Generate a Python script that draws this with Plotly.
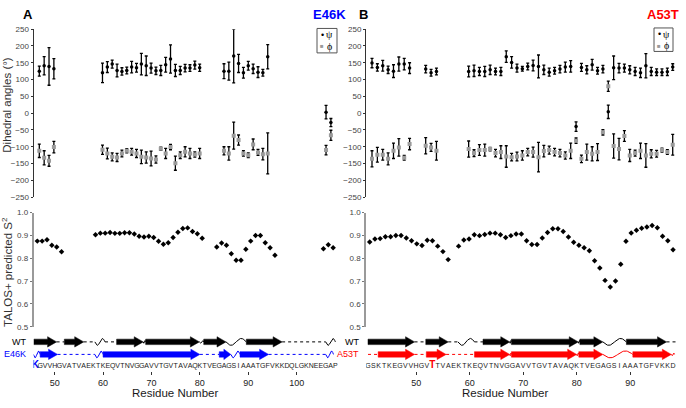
import numpy as np
import plotly.graph_objects as go

# ---------------- data ----------------
# Panel A : E46K
A_dih_res = [47, 48, 49, 50,
             60, 61, 62, 63, 64, 65, 66, 67, 68, 69, 70, 71, 72, 73, 74, 75, 76, 77, 78, 79, 80,
             85, 86, 87, 88, 89, 90, 91, 92, 93, 94,
             106, 107]
A_psi = [125, 141, 139, 132,
         120, 137, 146, 127, 124, 127, 137, 135, 146, 141, 134, 126, 127, 144, 161, 127, 127, 134, 134, 143, 135,
         125, 125, 170, 148, 120, 141, 132, 122, 120, 168,
         3, -28]
A_psi_err = [15, 27, 56, 30,
             29, 16, 12, 19, 11, 10, 17, 13, 32, 29, 15, 11, 15, 22, 42, 18, 12, 11, 10, 12, 11,
             22, 27, 80, 27, 16, 13, 14, 16, 10, 36,
             20, 12]
A_phi = [-112, -133, -142, -101,
         -109, -120, -130, -132, -120, -112, -115, -120, -130, -132, -135, -138, -106, -120, -101, -149, -125, -115, -120, -123, -120,
         -112, -120, -67, -80, -120, -125, -93, -117, -122, -120,
         -110, -66]
A_phi_err = [20, 21, 16, 17,
             14, 16, 12, 12, 10, 6, 10, 12, 20, 17, 22, 11, 5, 15, 8, 21, 10, 15, 15, 8, 15,
             12, 20, 40, 15, 8, 7, 16, 9, 17, 61,
             14, 15]
A_s2_res = [46, 47, 48, 49, 50, 51,
            58, 59, 60, 61, 62, 63, 64, 65, 66, 67, 68, 69, 70, 71, 72, 73, 74, 75, 76, 77, 78, 79, 80,
            83, 84, 85, 86, 87, 88, 89, 90, 91, 92, 93, 94, 95,
            105, 106, 107]
A_s2 = [0.875, 0.875, 0.881, 0.857, 0.849, 0.828,
        0.903, 0.910, 0.910, 0.913, 0.909, 0.909, 0.912, 0.912, 0.906, 0.896, 0.893, 0.896, 0.891, 0.874,
        0.861, 0.868, 0.891, 0.914, 0.930, 0.933, 0.917, 0.907, 0.888,
        0.849, 0.867, 0.857, 0.820, 0.791, 0.791, 0.839, 0.875, 0.900, 0.900, 0.868, 0.846, 0.813,
        0.842, 0.859, 0.846]
A_seq_start = 46
A_seq = "KGVVHGVATVAEKTKEQVTNVGGAVVTGVTAVAQKTVEGAGSIAAATGFVKKDQLGKNEEGAP"
A_mut_res = 46
A_ticks = [50, 60, 70, 80, 90, 100]
# secondary structure (residue start, end)
A_wt_strands = [(45.7, 50.4), (52.0, 56.0), (62.8, 68.3), (68.8, 79.9), (80.8, 85.4), (89.6, 97.0)]
A_wt_waves = [(58.3, 60.4), (68.3, 68.8), (79.9, 80.8), (85.4, 89.6), (106.0, 108.0)]
A_wt_dots = [(50.4, 52.0), (56.0, 58.3), (60.4, 62.8), (97.0, 106.0)]
A_mt_strands = [(47.0, 50.6), (60.0, 80.0), (84.0, 86.4), (88.3, 94.2)]
A_mt_waves = [(45.6, 47.0), (58.3, 60.0), (86.4, 88.3), (106.0, 107.6)]
A_mt_dots = [(50.6, 58.3), (80.0, 84.0), (94.2, 106.0)]

# Panel B : A53T
B_dih_res = [42, 43, 44, 45, 46, 47, 48, 49,
             52, 53, 54,
             60, 61, 62, 63, 64, 65, 66, 67, 68, 69, 70, 71, 72, 73, 74, 75, 76, 77, 78, 79,
             80, 81, 82, 83, 84, 85, 86, 87, 88, 89, 90, 91, 92, 93, 94, 95, 96, 97, 98]
B_psi = [149, 136, 141, 129, 125, 146, 146, 134,
         131, 120, 124,
         124, 126, 124, 124, 129, 124, 124, 168, 151, 134, 132, 139, 142, 139, 129, 122, 126, 131, 137, 139,
         -40, 136, 129, 144, 126, 131, 4, 135, 134, 134, 129, 124, 120, 141, 124, 122, 122, 123, 137]
B_psi_err = [14, 11, 16, 11, 19, 21, 17, 16,
             11, 10, 10,
             16, 17, 12, 15, 14, 10, 12, 17, 17, 12, 7, 10, 16, 34, 14, 12, 10, 11, 15, 17,
             14, 12, 12, 16, 10, 11, 20, 35, 14, 12, 12, 12, 14, 36, 12, 10, 10, 11, 10]
B_phi = [-136, -124, -124, -136, -112, -102, -133, -92,
         -97, -102, -112,
         -107, -119, -110, -110, -107, -119, -116, -129, -131, -129, -126, -116, -116, -131, -113, -110, -116, -119, -126, -112,
         -82, -136, -116, -121, -116, -57, 80, -98, -107, -68, -126, -119, -112, -126, -121, -121, -110, -116, -94]
B_phi_err = [24, 22, 16, 18, 23, 26, 7, 17,
             24, 12, 28,
             24, 10, 16, 18, 5, 11, 19, 32, 11, 13, 14, 11, 15, 44, 17, 12, 11, 11, 11, 23,
             8, 11, 24, 21, 25, 8, 15, 36, 32, 16, 18, 9, 23, 35, 12, 10, 6, 7, 31]
B_s2_res = [41, 42, 43, 44, 45, 46, 47, 48, 49, 50, 51, 52, 53, 54, 55, 56,
            58, 59, 60, 61, 62, 63, 64, 65, 66, 67, 68, 69, 70, 71, 72, 73, 74, 75, 76, 77, 78,
            79, 80, 81, 82, 83, 84, 85, 86, 87, 88, 89, 90, 91, 92, 93, 94, 95, 96, 97, 98, 99]
B_s2 = [0.871, 0.884, 0.886, 0.894, 0.894, 0.900, 0.900, 0.889, 0.877, 0.863, 0.856, 0.879, 0.877, 0.853, 0.829, 0.794,
        0.853, 0.880, 0.884, 0.903, 0.899, 0.904, 0.910, 0.910, 0.903, 0.891,
        0.899, 0.906, 0.906, 0.877, 0.860, 0.860, 0.889, 0.913, 0.929, 0.929,
        0.917, 0.893, 0.870, 0.857, 0.846, 0.833, 0.789, 0.757, 0.703, 0.674,
        0.700, 0.774, 0.874, 0.911, 0.923, 0.931, 0.937, 0.943, 0.934, 0.896,
        0.877, 0.837]
B_seq_start = 41
B_seq = "GSKTKEGVVHGVTTVAEKTKEQVTNVGGAVVTGVTAVAQKTVEGAGSIAAATGFVKKD"
B_mut_res = 53
B_ticks = [50, 60, 70, 80, 90]
B_wt_strands = [(41.0, 49.7), (51.8, 56.0), (62.5, 67.5), (67.8, 80.3), (80.6, 84.9), (89.3, 96.8)]
B_wt_waves = [(57.8, 60.9), (67.5, 67.8), (80.3, 80.6), (84.9, 89.3)]
B_wt_dots = [(49.7, 51.8), (56.0, 57.8), (60.9, 62.5), (96.8, 98.6)]
B_mt_strands = [(42.9, 49.7), (51.9, 55.6), (60.9, 67.5), (67.8, 80.0), (80.4, 84.9), (90.5, 97.7)]
B_mt_waves = [(67.5, 67.8), (80.0, 80.4), (84.9, 90.5), (97.7, 98.3)]
B_mt_dots = [(41.0, 42.9), (49.7, 51.9), (55.6, 60.9)]

# ---------------- layout helpers ----------------
W, H = 686, 408
FONT = "Arial, Liberation Sans, sans-serif"
SERIF = "Liberation Serif, DejaVu Serif, serif"


def fx(px):
    return px / W


def fy(py):
    return 1 - py / H


def xr(anchor_px, anchor_res, ppr, dom):
    return [anchor_res + (dom[0] - anchor_px) / ppr, anchor_res + (dom[1] - anchor_px) / ppr]


A_DOM = (33.5, 340.0)
B_DOM = (366.0, 684.0)
DIH_DOM = (197.5, 25.7)
S2_DOM = (330.0, 213.3)
SS_DOM = (375.0, 336.0)
WT_Y, MT_Y, SEQ_Y = 375 - 345.5, 375 - 358.3, 375 - 370.0

CAL = {
    "A_dih": (39.3, 47, 4.86), "A_s2": (37.3, 46, 4.85), "A_res": (35.3, 46, 4.84),
    "B_dih": (372.0, 42, 5.37), "B_s2": (369.7, 41, 5.23), "B_res": (368.0, 41, 5.35),
}

fig = go.Figure()


def dihedral(res, psi, psi_e, phi, phi_e, xa, ya):
    eb = dict(type="data", color="#000000", thickness=1.3, width=1.5)
    fig.add_trace(go.Scatter(x=res, y=phi, mode="markers", xaxis=xa, yaxis=ya,
                             error_y=dict(array=phi_e, **eb),
                             marker=dict(color="#9a9a9a", size=4, symbol="square"),
                             showlegend=False, hoverinfo="skip"))
    fig.add_trace(go.Scatter(x=res, y=psi, mode="markers", xaxis=xa, yaxis=ya,
                             error_y=dict(array=psi_e, **eb),
                             marker=dict(color="#000000", size=3.5),
                             showlegend=False, hoverinfo="skip"))


def s2(res, vals, xa, ya):
    fig.add_trace(go.Scatter(x=res, y=vals, mode="markers", xaxis=xa, yaxis=ya,
                             marker=dict(color="#000000", size=4.2, symbol="diamond"),
                             showlegend=False, hoverinfo="skip"))


def sstruct(strands, waves, dots, y, color, ppr, xa, ya):
    xs, ys = [], []
    for a, b in dots:
        xs += [a, b, None]
        ys += [y, y, None]
    fig.add_trace(go.Scatter(x=xs, y=ys, mode="lines", xaxis=xa, yaxis=ya,
                             line=dict(color=color, width=1, dash="dot"),
                             showlegend=False, hoverinfo="skip"))
    xs, ys = [], []
    for a, b in waves:
        lp = (b - a) * ppr
        amp = 1.4 if lp < 6 else 3.5
        t = np.linspace(0, 1, 40)
        xs += list(a + (b - a) * t) + [None]
        ys += list(y - amp * np.sin(2 * np.pi * t)) + [None]
    fig.add_trace(go.Scatter(x=xs, y=ys, mode="lines", xaxis=xa, yaxis=ya,
                             line=dict(color=color, width=1),
                             showlegend=False, hoverinfo="skip"))
    head = 9.0 / ppr
    bh, hh = 2.8, 5.3
    xs, ys = [], []
    for a, b in strands:
        h = min(head, (b - a) * 0.6)
        xs += [a, b - h, b - h, b, b - h, b - h, a, a, None]
        ys += [y - bh, y - bh, y - hh, y, y + hh, y + bh, y + bh, y - bh, None]
    fig.add_trace(go.Scatter(x=xs, y=ys, mode="lines", fill="toself", fillcolor=color,
                             xaxis=xa, yaxis=ya, line=dict(color=color, width=0.5),
                             showlegend=False, hoverinfo="skip"))


def sequence(seq, start, mut_res, mut_color, xa, ya):
    res = [start + i for i in range(len(seq))]
    txt, cols, sizes = [], [], []
    for r, ch in zip(res, seq):
        if r == mut_res:
            txt.append("<b>" + ch + "</b>")
            cols.append(mut_color)
            sizes.append(10)
        else:
            txt.append(ch)
            cols.append("#1a1a1a")
            sizes.append(7)
    fig.add_trace(go.Scatter(x=res, y=[SEQ_Y] * len(res), mode="text", text=txt,
                             textposition="middle center", xaxis=xa, yaxis=ya,
                             textfont=dict(family=FONT, size=sizes, color=cols),
                             showlegend=False, hoverinfo="skip"))


BLUE, RED = "#0000ff", "#ff0000"

# Panel A
dihedral(A_dih_res, A_psi, A_psi_err, A_phi, A_phi_err, "x", "y")
s2(A_s2_res, A_s2, "x2", "y2")
ppA = CAL["A_res"][2]
sstruct(A_wt_strands, A_wt_waves, A_wt_dots, WT_Y, "#000000", ppA, "x3", "y3")
sstruct(A_mt_strands, A_mt_waves, A_mt_dots, MT_Y, BLUE, ppA, "x3", "y3")
sequence(A_seq, A_seq_start, A_mut_res, BLUE, "x3", "y3")
# Panel B
dihedral(B_dih_res, B_psi, B_psi_err, B_phi, B_phi_err, "x4", "y4")
s2(B_s2_res, B_s2, "x5", "y5")
ppB = CAL["B_res"][2]
sstruct(B_wt_strands, B_wt_waves, B_wt_dots, WT_Y, "#000000", ppB, "x6", "y6")
sstruct(B_mt_strands, B_mt_waves, B_mt_dots, MT_Y, RED, ppB, "x6", "y6")
sequence(B_seq, B_seq_start, B_mut_res, RED, "x6", "y6")

# ---------------- axes ----------------
hidden_x = dict(visible=False, showgrid=False, zeroline=False)
dih_y = dict(range=[-250, 250], tickvals=list(range(-250, 251, 50)), showgrid=False, zeroline=False,
             showline=True, linecolor="#333333", linewidth=1, ticks="outside", ticklen=2,
             tickcolor="#333333", tickfont=dict(family=FONT, size=8, color="#444444"),
             domain=[fy(DIH_DOM[0]), fy(DIH_DOM[1])])
s2_y = dict(range=[0.5, 1.0], tickvals=[0.5, 0.6, 0.7, 0.8, 0.9, 1.0], tickformat=".1f",
            showgrid=False, zeroline=False, showline=True, linecolor="#9a9a9a", linewidth=1.6,
            ticks="outside", ticklen=2, tickcolor="#777777",
            tickfont=dict(family=FONT, size=8, color="#444444"),
            domain=[fy(S2_DOM[0]), fy(S2_DOM[1])])
ss_y = dict(range=[0, 39], visible=False, domain=[fy(SS_DOM[0]), fy(SS_DOM[1])])


def res_x(dom, cal, ticks, anchor):
    return dict(range=xr(*cal, dom), domain=[fx(dom[0]), fx(dom[1])], anchor=anchor,
                showgrid=False, zeroline=False, showline=False, ticks="outside", ticklen=3,
                tickcolor="#333333", tickvals=ticks,
                tickfont=dict(family=FONT, size=9, color="#222222"))


fig.update_layout(
    width=W, height=H, margin=dict(l=0, r=0, t=0, b=0),
    paper_bgcolor="white", plot_bgcolor="rgba(0,0,0,0)",
    xaxis=dict(range=xr(*CAL["A_dih"], A_DOM), domain=[fx(A_DOM[0]), fx(A_DOM[1])], anchor="y", **hidden_x),
    yaxis=dict(anchor="x", **dih_y),
    xaxis2=dict(range=xr(*CAL["A_s2"], A_DOM), domain=[fx(A_DOM[0]), fx(A_DOM[1])], anchor="y2", **hidden_x),
    yaxis2=dict(anchor="x2", **s2_y),
    xaxis3=res_x(A_DOM, CAL["A_res"], A_ticks, "y3"),
    yaxis3=dict(anchor="x3", **ss_y),
    xaxis4=dict(range=xr(*CAL["B_dih"], B_DOM), domain=[fx(B_DOM[0]), fx(B_DOM[1])], anchor="y4", **hidden_x),
    yaxis4=dict(anchor="x4", **dih_y),
    xaxis5=dict(range=xr(*CAL["B_s2"], B_DOM), domain=[fx(B_DOM[0]), fx(B_DOM[1])], anchor="y5", **hidden_x),
    yaxis5=dict(anchor="x5", **s2_y),
    xaxis6=res_x(B_DOM, CAL["B_res"], B_ticks, "y6"),
    yaxis6=dict(anchor="x6", **ss_y),
)

# ---------------- annotations ----------------
ann = []


def text(px, py, s, size, color="#000000", bold=False, xanchor="center", angle=0, family=FONT):
    ann.append(dict(x=fx(px), y=fy(py), xref="paper", yref="paper", text=("<b>%s</b>" % s) if bold else s,
                    showarrow=False, xanchor=xanchor, yanchor="middle", textangle=angle,
                    font=dict(family=family, size=size, color=color)))


text(27.5, 11, "A", 13, bold=True)
text(363, 11, "B", 13, bold=True)
text(329, 11, "E46K", 13, color=BLUE, bold=True)
text(663, 11, "A53T", 13, color=RED, bold=True)
text(7, 103, "Dihedral angles (°)", 11.5, color="#333333", angle=-90)
text(7, 274, "TALOS+ predicted S<sup>2</sup>", 11.5, color="#333333", angle=-90)
text(28, 345.5, "WT", 9, xanchor="right")
text(28, 358.3, "E46K", 9, color=BLUE, xanchor="right")
text(361, 345.5, "WT", 9, xanchor="right")
text(361, 358.3, "A53T", 9, color=RED, xanchor="right")
text(175, 397.5, "Residue Number", 11.5, color="#1a1a1a")
text(505, 397.5, "Residue Number", 11.5, color="#1a1a1a")

shapes = []
for (x0, y0, x1, y1) in [(317, 25, 337, 50), (654, 24.5, 673, 48.5)]:
    shapes.append(dict(type="rect", xref="paper", yref="paper", x0=fx(x0), x1=fx(x1), y0=fy(y1), y1=fy(y0),
                       line=dict(color="#555555", width=1), fillcolor="white"))
    text(x0 + 5, y0 + 6.5, "•", 9, color="#000000", family=FONT)
    text(x0 + 12.5, y0 + 6.5, "ψ", 10, color="#000000", family=SERIF)
    text(x0 + 5, y0 + 18, "■", 6, color="#9a9a9a", family=FONT)
    text(x0 + 12.5, y0 + 18, "ϕ", 10, color="#000000", family=SERIF)

fig.update_layout(annotations=ann, shapes=shapes)
fig.write_html("out.html", config={"displayModeBar": False},
               post_script="document.body.style.margin='0px';document.body.style.padding='0px';")
